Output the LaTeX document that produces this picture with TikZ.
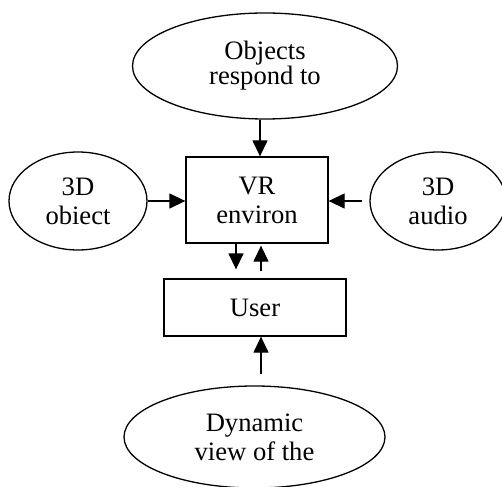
\documentclass[tikz,border=0pt]{standalone}
\usepackage{fontspec}
\setmainfont{Liberation Serif}
\usetikzlibrary{shapes.geometric,arrows.meta}
\tikzset{
  bubble/.style={draw, ellipse, line width=0.65pt, inner sep=0pt, align=center, font=\fontsize{13.3}{14.5}\selectfont},
  panel/.style={draw, rectangle, line width=0.65pt, inner sep=0pt, align=center, font=\fontsize{13.3}{14.5}\selectfont},
  arr/.style={line width=0.65pt, -{Triangle[length=8pt,width=7.5pt]}}
}
\begin{document}
\begin{tikzpicture}[x=0.5pt,y=-0.5pt]
\useasboundingbox (0,0) rectangle (502,486);
\node[bubble, minimum width=132.5pt, minimum height=53pt, font=\fontsize{13.3}{12.5}\selectfont] (resp) at (265,66) {Objects\\respond to};
\node[panel, minimum width=71pt, minimum height=43pt] (vr) at (257,200) {VR\\environ};
\node[bubble, minimum width=69pt, minimum height=49pt] (obj) at (78,201) {3D\\obiect};
\node[bubble, minimum width=68pt, minimum height=49pt] (audio) at (438,201) {3D\\audio};
\node[panel, minimum width=91pt, minimum height=28.5pt] (user) at (255,307.5) {User};
\node[bubble, minimum width=130.5pt, minimum height=51pt] (view) at (254.5,437) {Dynamic\\view of the};
\draw[arr] ([xshift=-2.5pt]resp.south) -- ([xshift=1.5pt]vr.north);
\draw[arr] (obj.east) -- (obj.east -| vr.west);
\draw[arr, shorten <=3.5pt] (audio.west) -- (audio.west -| vr.east);
\draw[arr, shorten >=4.5pt] ([xshift=-10.5pt]vr.south) -- ([xshift=-9.5pt]user.north);
\draw[arr, shorten <=3.5pt, shorten >=1pt] ([xshift=3pt]user.north) -- ([xshift=2pt]vr.south);
\draw[arr, shorten <=5.5pt] ([xshift=3.25pt]view.north) -- ([xshift=3pt]user.south);
\end{tikzpicture}
\end{document}
